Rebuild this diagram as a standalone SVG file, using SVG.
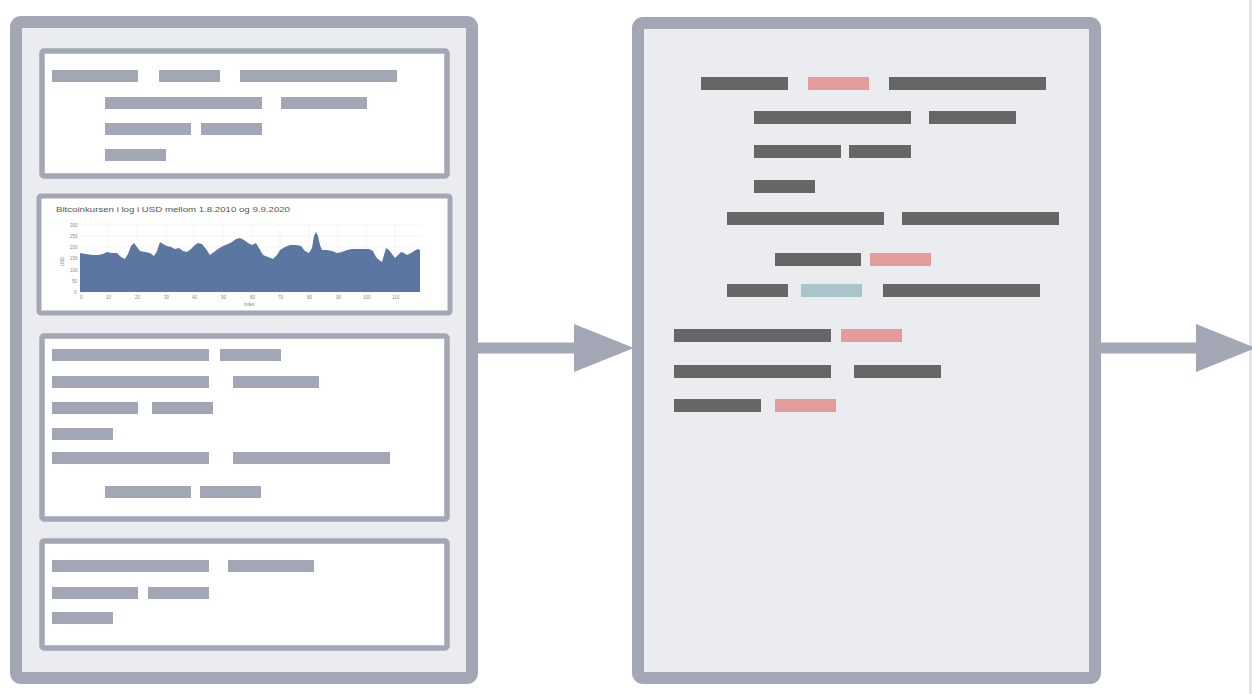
<svg xmlns="http://www.w3.org/2000/svg" width="1252" height="694" viewBox="0 0 1252 694">
  <style>
    .outer { fill: #ebecf0; stroke: #a3a6b5; stroke-width: 12; }
    .panel { fill: #ffffff; stroke: #a3a6b5; stroke-width: 5.5; }
    .chartpanel { fill: #ffffff; stroke: #a3a6b5; stroke-width: 5; }
    .g { fill: #a3a6b5; }
    .d { fill: #666666; }
    .p { fill: #e39c9c; }
    .t { fill: #a9c5ca; }
    .conn { stroke: #a3a6b5; stroke-width: 11; fill: none; }
    .grid { stroke: #eeeeee; stroke-width: 0.6; }
    .tick { font-family: "Liberation Sans", Arial, sans-serif; font-size: 4.5px; fill: #888888; }
    .title { font-family: "Liberation Sans", Arial, sans-serif; font-size: 7.5px; fill: #555555; }
  </style>
  <defs>
    <marker id="head" markerUnits="userSpaceOnUse" markerWidth="60" markerHeight="48" refX="0" refY="24" orient="auto">
      <path d="M0,0 L60,24 L0,48 Z" fill="#a3a6b5"/>
    </marker>
  </defs>

  <rect x="0" y="0" width="1252" height="694" fill="#ffffff"/>
  <rect x="1249" y="0" width="3" height="694" fill="#e2e3e8"/>

  <g id="connectors">
    <line class="conn" x1="478" y1="348" x2="574" y2="348" marker-end="url(#head)"/>
    <line class="conn" x1="1100" y1="348" x2="1196" y2="348" marker-end="url(#head)"/>
  </g>

  <g id="source">
    <rect class="outer" x="16" y="22" width="456" height="656" rx="5"/>

    <g id="source-panel-1">
      <rect class="panel" x="42" y="51" width="405" height="125" rx="2"/>
      <rect class="g" x="52" y="70" width="86" height="12"/>
      <rect class="g" x="159" y="70" width="61" height="12"/>
      <rect class="g" x="240" y="70" width="157" height="12"/>
      <rect class="g" x="105" y="97" width="157" height="12"/>
      <rect class="g" x="281" y="97" width="86" height="12"/>
      <rect class="g" x="105" y="123" width="86" height="12"/>
      <rect class="g" x="201" y="123" width="61" height="12"/>
      <rect class="g" x="105" y="149" width="61" height="12"/>
    </g>

    <g id="source-chart">
      <rect class="chartpanel" x="39" y="196" width="411" height="117" rx="2"/>
      <text class="title" x="56" y="212" textLength="234" lengthAdjust="spacingAndGlyphs">Bitcoinkursen i log i USD mellom 1.8.2010 og 9.9.2020</text>
      <g>
        <line class="grid" x1="80" y1="225" x2="422" y2="225"/>
        <line class="grid" x1="80" y1="236" x2="422" y2="236"/>
        <line class="grid" x1="80" y1="247" x2="422" y2="247"/>
        <line class="grid" x1="80" y1="258" x2="422" y2="258"/>
        <line class="grid" x1="80" y1="270" x2="422" y2="270"/>
        <line class="grid" x1="80" y1="281" x2="422" y2="281"/>
        <line class="grid" x1="108" y1="225" x2="108" y2="292"/>
        <line class="grid" x1="137" y1="225" x2="137" y2="292"/>
        <line class="grid" x1="166" y1="225" x2="166" y2="292"/>
        <line class="grid" x1="194" y1="225" x2="194" y2="292"/>
        <line class="grid" x1="223" y1="225" x2="223" y2="292"/>
        <line class="grid" x1="252" y1="225" x2="252" y2="292"/>
        <line class="grid" x1="280" y1="225" x2="280" y2="292"/>
        <line class="grid" x1="309" y1="225" x2="309" y2="292"/>
        <line class="grid" x1="338" y1="225" x2="338" y2="292"/>
        <line class="grid" x1="366" y1="225" x2="366" y2="292"/>
        <line class="grid" x1="395" y1="225" x2="395" y2="292"/>
      </g>
      <path fill="#5b76a0" d="M80,292 L80,253 L86,254 L92,255 L98,255 L103,254 L107,252 L112,253 L117,253 L121,257 L125,259 L128,254 L131,246 L134,243 L137,247 L140,251 L145,252 L150,253 L154,256 L157,251 L160,242 L163,244 L167,246 L171,247 L175,249 L179,248 L183,251 L187,252 L191,249 L195,245 L198,243 L202,244 L206,249 L210,255 L214,252 L218,249 L223,246 L228,244 L232,242 L236,239 L240,238 L244,240 L248,243 L252,245 L256,243 L259,248 L263,255 L268,257 L273,259 L277,255 L280,250 L285,247 L290,245 L296,245 L301,246 L305,251 L309,253 L312,248 L314,236 L316,232 L318,236 L320,245 L322,250 L327,250 L332,251 L337,253 L342,252 L347,250 L352,249 L357,249 L363,249 L369,249 L373,251 L376,257 L379,260 L382,262 L384,255 L386,248 L389,250 L392,254 L395,258 L398,255 L401,252 L404,253 L407,255 L411,253 L414,251 L418,249 L420,250 L420,292 Z"/>
      <g class="tick">
        <text x="70" y="226.5">300</text>
        <text x="70" y="237.5">250</text>
        <text x="70" y="248.5">200</text>
        <text x="70" y="259.5">150</text>
        <text x="70" y="271.5">100</text>
        <text x="72" y="282.5">50</text>
        <text x="74" y="293.5">0</text>
        <text x="80" y="299">0</text>
        <text x="106" y="299">10</text>
        <text x="135" y="299">20</text>
        <text x="164" y="299">30</text>
        <text x="192" y="299">40</text>
        <text x="221" y="299">50</text>
        <text x="250" y="299">60</text>
        <text x="278" y="299">70</text>
        <text x="307" y="299">80</text>
        <text x="336" y="299">90</text>
        <text x="363" y="299">100</text>
        <text x="392" y="299">110</text>
        <text x="244" y="306">index</text>
        <text transform="translate(64,266) rotate(-90)">USD</text>
      </g>
    </g>

    <g id="source-panel-3">
      <rect class="panel" x="42" y="336" width="405" height="183" rx="2"/>
      <rect class="g" x="52" y="349" width="157" height="12"/>
      <rect class="g" x="220" y="349" width="61" height="12"/>
      <rect class="g" x="52" y="376" width="157" height="12"/>
      <rect class="g" x="233" y="376" width="86" height="12"/>
      <rect class="g" x="52" y="402" width="86" height="12"/>
      <rect class="g" x="152" y="402" width="61" height="12"/>
      <rect class="g" x="52" y="428" width="61" height="12"/>
      <rect class="g" x="52" y="452" width="157" height="12"/>
      <rect class="g" x="233" y="452" width="157" height="12"/>
      <rect class="g" x="105" y="486" width="86" height="12"/>
      <rect class="g" x="200" y="486" width="61" height="12"/>
    </g>

    <g id="source-panel-4">
      <rect class="panel" x="42" y="541" width="405" height="107" rx="2"/>
      <rect class="g" x="52" y="560" width="157" height="12"/>
      <rect class="g" x="228" y="560" width="86" height="12"/>
      <rect class="g" x="52" y="587" width="86" height="12"/>
      <rect class="g" x="148" y="587" width="61" height="12"/>
      <rect class="g" x="52" y="612" width="61" height="12"/>
    </g>
  </g>

  <g id="output">
    <rect class="outer" x="638" y="23" width="457" height="655" rx="5"/>
    <rect class="d" x="701" y="77" width="87" height="13"/>
    <rect class="p" x="808" y="77" width="61" height="13"/>
    <rect class="d" x="889" y="77" width="157" height="13"/>
    <rect class="d" x="754" y="111" width="157" height="13"/>
    <rect class="d" x="929" y="111" width="87" height="13"/>
    <rect class="d" x="754" y="145" width="87" height="13"/>
    <rect class="d" x="849" y="145" width="62" height="13"/>
    <rect class="d" x="754" y="180" width="61" height="13"/>
    <rect class="d" x="727" y="212" width="157" height="13"/>
    <rect class="d" x="902" y="212" width="157" height="13"/>
    <rect class="d" x="775" y="253" width="86" height="13"/>
    <rect class="p" x="870" y="253" width="61" height="13"/>
    <rect class="d" x="727" y="284" width="61" height="13"/>
    <rect class="t" x="801" y="284" width="61" height="13"/>
    <rect class="d" x="883" y="284" width="157" height="13"/>
    <rect class="d" x="674" y="329" width="157" height="13"/>
    <rect class="p" x="841" y="329" width="61" height="13"/>
    <rect class="d" x="674" y="365" width="157" height="13"/>
    <rect class="d" x="854" y="365" width="87" height="13"/>
    <rect class="d" x="674" y="399" width="87" height="13"/>
    <rect class="p" x="775" y="399" width="61" height="13"/>
  </g>
</svg>
